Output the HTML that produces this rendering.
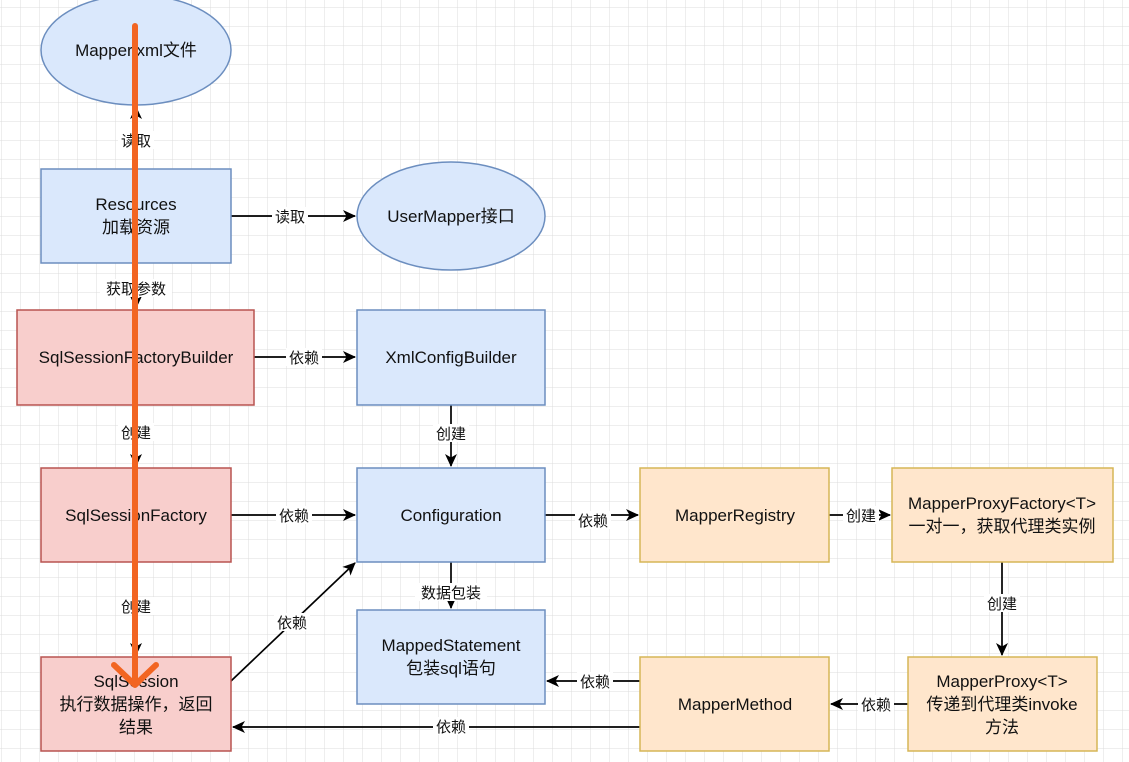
<!DOCTYPE html>
<html><head><meta charset="utf-8"><style>
html,body{margin:0;padding:0;background:#fff;}
svg{display:block;}
text{font-family:"Liberation Sans","Noto Sans CJK SC",sans-serif;font-size:17px;fill:#111;text-anchor:middle;}
.l{font-size:15px;}
</style></head><body>
<svg width="1129" height="762" viewBox="0 0 1129 762" xmlns="http://www.w3.org/2000/svg">
<defs>
<pattern id="g" width="19" height="19" patternUnits="userSpaceOnUse" x="2" y="8">
<path d="M19 0V19M0 19H19" stroke="#dcdcdc" stroke-width="1" fill="none"/>
</pattern>
<marker id="a" markerWidth="14" markerHeight="14" refX="12" refY="6" orient="auto" markerUnits="userSpaceOnUse">
<path d="M0,0 L13,6 L0,12 L3.5,6 Z" fill="#000"/>
</marker>
</defs>
<rect width="1129" height="762" fill="url(#g)"/>
<g stroke="#000" stroke-width="1.7" fill="none">
<line x1="136" y1="169" x2="136" y2="107" marker-end="url(#a)"/>
<line x1="231" y1="216" x2="355" y2="216" marker-end="url(#a)"/>
<line x1="136" y1="263" x2="136" y2="308" marker-end="url(#a)"/>
<line x1="254" y1="357" x2="355" y2="357" marker-end="url(#a)"/>
<line x1="451" y1="405" x2="451" y2="466" marker-end="url(#a)"/>
<line x1="136" y1="405" x2="136" y2="466" marker-end="url(#a)"/>
<line x1="231" y1="515" x2="355" y2="515" marker-end="url(#a)"/>
<line x1="545" y1="515" x2="638" y2="515" marker-end="url(#a)"/>
<line x1="829" y1="515" x2="890" y2="515" marker-end="url(#a)"/>
<line x1="1002" y1="562" x2="1002" y2="655" marker-end="url(#a)"/>
<line x1="136" y1="562" x2="136" y2="655" marker-end="url(#a)"/>
<line x1="231" y1="681" x2="355" y2="563" marker-end="url(#a)"/>
<line x1="451" y1="562" x2="451" y2="608" marker-end="url(#a)"/>
<line x1="908" y1="704" x2="831" y2="704" marker-end="url(#a)"/>
<line x1="640" y1="681" x2="547" y2="681" marker-end="url(#a)"/>
<line x1="640" y1="727" x2="233" y2="727" marker-end="url(#a)"/>
</g>
<g stroke-width="1.5">
<ellipse cx="136" cy="50" rx="95" ry="55" fill="#dae8fc" stroke="#6c8ebf"/>
<rect x="41" y="169" width="190" height="94" fill="#dae8fc" stroke="#6c8ebf"/>
<ellipse cx="451" cy="216" rx="94" ry="54" fill="#dae8fc" stroke="#6c8ebf"/>
<rect x="17" y="310" width="237" height="95" fill="#f8cecc" stroke="#b85450"/>
<rect x="357" y="310" width="188" height="95" fill="#dae8fc" stroke="#6c8ebf"/>
<rect x="41" y="468" width="190" height="94" fill="#f8cecc" stroke="#b85450"/>
<rect x="357" y="468" width="188" height="94" fill="#dae8fc" stroke="#6c8ebf"/>
<rect x="640" y="468" width="189" height="94" fill="#ffe6cc" stroke="#d6b656"/>
<rect x="892" y="468" width="221" height="94" fill="#ffe6cc" stroke="#d6b656"/>
<rect x="41" y="657" width="190" height="94" fill="#f8cecc" stroke="#b85450"/>
<rect x="357" y="610" width="188" height="94" fill="#dae8fc" stroke="#6c8ebf"/>
<rect x="640" y="657" width="189" height="94" fill="#ffe6cc" stroke="#d6b656"/>
<rect x="908" y="657" width="189" height="94" fill="#ffe6cc" stroke="#d6b656"/>
</g>
<text x="136" y="56">Mapper.xml文件</text>
<text x="136" y="210">Resources</text><text x="136" y="233">加载资源</text>
<text x="451" y="222">UserMapper接口</text>
<text x="136" y="363">SqlSessionFactoryBuilder</text>
<text x="451" y="363">XmlConfigBuilder</text>
<text x="136" y="521">SqlSessionFactory</text>
<text x="451" y="521">Configuration</text>
<text x="735" y="521">MapperRegistry</text>
<text x="1002" y="509">MapperProxyFactory&lt;T&gt;</text><text x="1002" y="532">一对一，获取代理类实例</text>
<text x="136" y="687">SqlSession</text><text x="136" y="710">执行数据操作，返回</text><text x="136" y="733">结果</text>
<text x="451" y="651">MappedStatement</text><text x="451" y="674">包装sql语句</text>
<text x="735" y="710">MapperMethod</text>
<text x="1002" y="687">MapperProxy&lt;T&gt;</text><text x="1002" y="710">传递到代理类invoke</text><text x="1002" y="733">方法</text>
<g>
<rect x="118" y="131" width="36" height="18" fill="#fff"/><text class="l" x="136" y="146">读取</text>
<rect x="272" y="207" width="36" height="18" fill="#fff"/><text class="l" x="290" y="222">读取</text>
<rect x="100" y="279" width="72" height="18" fill="#fff"/><text class="l" x="136" y="294">获取参数</text>
<rect x="286" y="348" width="36" height="18" fill="#fff"/><text class="l" x="304" y="363">依赖</text>
<rect x="118" y="423" width="36" height="18" fill="#fff"/><text class="l" x="136" y="438">创建</text>
<rect x="433" y="424" width="36" height="18" fill="#fff"/><text class="l" x="451" y="439">创建</text>
<rect x="276" y="506" width="36" height="18" fill="#fff"/><text class="l" x="294" y="521">依赖</text>
<rect x="575" y="511" width="36" height="18" fill="#fff"/><text class="l" x="593" y="526">依赖</text>
<rect x="843" y="506" width="36" height="18" fill="#fff"/><text class="l" x="861" y="521">创建</text>
<rect x="984" y="594" width="36" height="18" fill="#fff"/><text class="l" x="1002" y="609">创建</text>
<rect x="118" y="597" width="36" height="18" fill="#fff"/><text class="l" x="136" y="612">创建</text>
<rect x="274" y="613" width="36" height="18" fill="#fff"/><text class="l" x="292" y="628">依赖</text>
<rect x="415" y="583" width="72" height="18" fill="#fff"/><text class="l" x="451" y="598">数据包装</text>
<rect x="858" y="695" width="36" height="18" fill="#fff"/><text class="l" x="876" y="710">依赖</text>
<rect x="577" y="672" width="36" height="18" fill="#fff"/><text class="l" x="595" y="687">依赖</text>
<rect x="433" y="717" width="36" height="18" fill="#fff"/><text class="l" x="451" y="732">依赖</text>
</g>
<g stroke="#f26522" stroke-width="6" stroke-linecap="round" stroke-linejoin="round" fill="none">
<line x1="135" y1="26" x2="135" y2="683"/>
<polyline points="114,665 135,685 156,665"/>
</g>
</svg>
</body></html>
